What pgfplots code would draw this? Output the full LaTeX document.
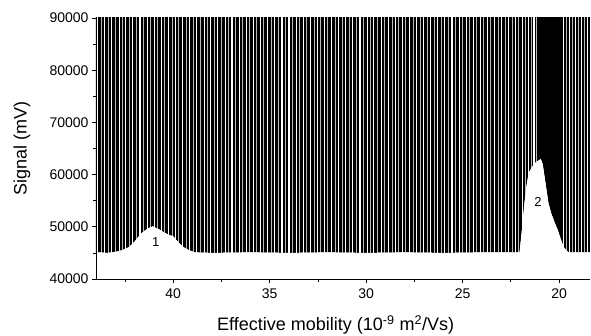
\documentclass[border=0pt]{standalone}
\usepackage{fontspec}
\setmainfont{Liberation Sans}
\usepackage{pgfplots}
\pgfplotsset{compat=1.18}
\pgfplotstableread{
x y
44.10 45000
43.80 45100
43.40 45000
43.00 45200
42.66 45500
42.48 45800
42.30 46100
42.12 46700
41.95 47400
41.78 48200
41.60 48900
41.42 49400
41.25 49800
41.05 50100
40.90 49800
40.72 49500
40.55 49100
40.36 48700
40.18 48400
40.00 48200
39.82 47400
39.64 46700
39.46 46100
39.28 45700
39.10 45400
38.85 45100
38.00 45000
36.00 45100
34.00 45000
32.00 45100
30.00 45000
28.00 45100
26.00 45000
24.00 45100
22.10 45100
22.05 45100
22.00 46900
21.90 50500
21.80 54500
21.70 57600
21.58 60300
21.40 61500
21.20 62400
20.95 63000
20.85 62000
20.75 59500
20.65 57000
20.55 54500
20.40 52500
20.25 51000
20.07 49400
19.90 47500
19.76 46100
19.60 45400
19.50 45100
18.30 45100
}\envelope
\begin{document}
\begin{tikzpicture}
\begin{axis}[
  scale only axis,
  width=494bp, height=261bp,
  x dir=reverse,
  xmin=18.4, xmax=44,
  ymin=40000, ymax=90000,
  axis on top,
  axis x line*=bottom, axis y line*=left,
  axis line style={black, line width=0.8bp},
  xtick={40,35,30,25,20},
  minor xtick={42.5,37.5,32.5,27.5,22.5},
  ytick={40000,50000,60000,70000,80000,90000},
  minor ytick={45000,55000,65000,75000,85000},
  tick align=outside,
  major tick length=4bp, minor tick length=2.5bp,
  tick style={black, line width=0.8bp},
  scaled y ticks=false,
  /pgf/number format/assume math mode=true,
  y tick label style={/pgf/number format/1000 sep={}},
  tick label style={font=\fontsize{14bp}{16bp}\selectfont},
  xticklabel style={yshift=-2bp},
  xlabel={Effective mobility (10\textsuperscript{-9} m\textsuperscript{2}/Vs)},
  ylabel={Signal (mV)},
  every axis x label/.style={at={(axis description cs:0.485,-0.199)}, anchor=base, font=\fontsize{18bp}{20bp}\selectfont},
  every axis y label/.style={at={(axis description cs:-0.150,0.5)}, rotate=90, anchor=center, font=\fontsize{18bp}{20bp}\selectfont},
  clip=true,
]
% region above the signal envelope (trace oscillating beyond full scale)
\addplot[fill=black, draw=none] table {\envelope} -- (axis cs:18.30,95000) -- (axis cs:44.10,95000) -- cycle;
% gaps between the trace's strokes
\addplot[ycomb, white, line width=1.1bp] coordinates {
(43.90,95000) (43.55,95000) (43.18,95000) (42.78,95000) (42.45,95000) (42.10,95000) (41.72,95000) (41.35,95000) (40.98,95000) (40.62,95000) (40.25,95000) (39.88,95000) (39.50,95000) (39.15,95000) (38.78,95000) (38.40,95000) (38.05,95000) (37.68,95000) (37.30,95000) (36.95,95000) (36.58,95000) (36.20,95000) (35.84,95000) (35.48,95000) (35.10,95000) (34.74,95000) (34.36,95000) (34.00,95000) (33.62,95000) (33.25,95000) (32.90,95000) (32.52,95000) (32.15,95000) (31.80,95000) (31.42,95000) (31.05,95000) (30.70,95000) (30.32,95000) (29.95,95000) (29.60,95000) (29.22,95000) (28.85,95000) (28.48,95000) (28.12,95000) (27.75,95000) (27.38,95000) (27.02,95000) (26.65,95000) (26.28,95000) (25.92,95000) (25.55,95000) (25.18,95000) (24.82,95000) (24.45,95000) (24.08,95000) (23.72,95000) (23.35,95000) (22.98,95000) (22.62,95000) (22.25,95000) (21.90,95000) (21.60,95000) (21.30,95000) (19.75,95000) (19.45,95000) (19.15,95000) (18.85,95000) (18.55,95000)
};
\addplot[ycomb, gray!55, line width=1bp] coordinates {
(43.72,95000) (43.36,95000) (42.97,95000) (42.62,95000) (42.28,95000) (41.92,95000) (41.54,95000) (41.17,95000) (40.80,95000) (40.44,95000) (40.06,95000) (39.70,95000) (39.33,95000) (38.97,95000) (38.60,95000) (38.22,95000) (37.86,95000) (37.50,95000) (37.12,95000) (36.77,95000) (36.40,95000) (36.02,95000) (35.66,95000) (35.30,95000) (34.92,95000) (34.55,95000) (34.18,95000) (33.80,95000) (33.44,95000) (33.08,95000) (32.70,95000) (32.34,95000) (31.98,95000) (31.60,95000) (31.24,95000) (30.88,95000) (30.50,95000) (30.14,95000) (29.78,95000) (29.40,95000) (29.04,95000) (28.66,95000) (28.30,95000) (27.94,95000) (27.56,95000) (27.20,95000) (26.84,95000) (26.46,95000) (26.10,95000) (25.74,95000) (25.36,95000) (25.00,95000) (24.64,95000) (24.26,95000) (23.90,95000) (23.54,95000) (23.16,95000) (22.80,95000) (22.44,95000) (22.08,95000) (21.75,95000) (21.45,95000) (21.15,95000) (19.60,95000) (19.30,95000) (19.00,95000) (18.70,95000)
};
% region below the envelope stays empty
\addplot[fill=white, draw=none] table {\envelope} -- (axis cs:18.30,39000) -- (axis cs:44.10,39000) -- cycle;
\node[font=\fontsize{13bp}{15bp}\selectfont] at (axis cs:40.9,47100) {1};
\node[font=\fontsize{13bp}{15bp}\selectfont] at (axis cs:21.1,54750) {2};
\end{axis}
\pgfresetboundingbox
\path[use as bounding box] ([shift={(-96bp,-57bp)}]current axis.south west) rectangle ([shift={(495bp,279bp)}]current axis.south west);
\end{tikzpicture}
\end{document}
